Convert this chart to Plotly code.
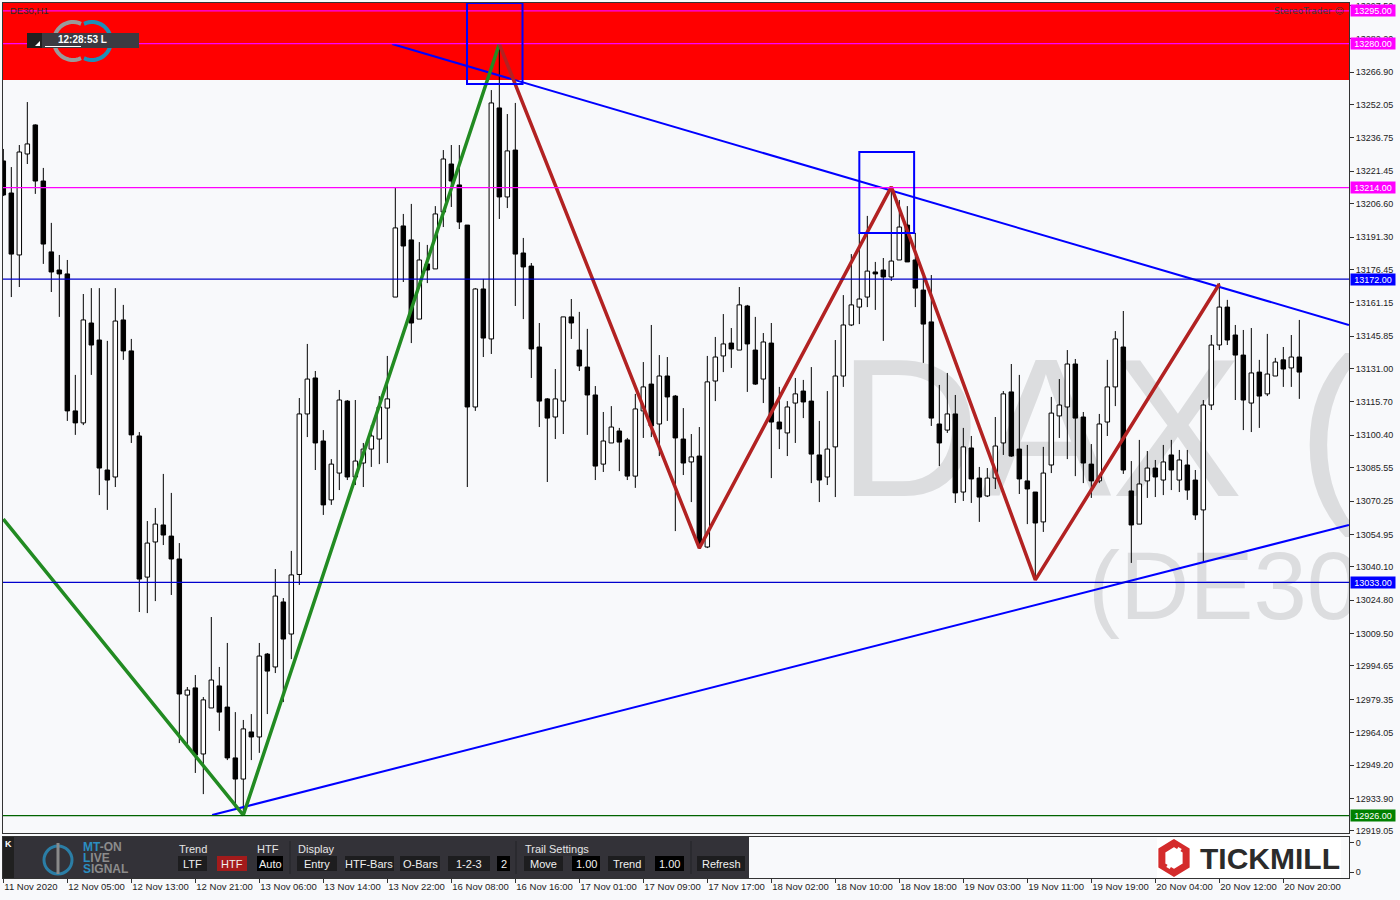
import math
import plotly.graph_objects as go

# ---------------- data ----------------
opens = [13226.2, 13211.5, 13183.1, 13229.4, 13242.7, 13217.0, 13184.5, 13176.2, 13174.4, 13111.6,
         13106.1, 13151.9, 13144.1, 13084.5, 13081.3, 13153.3, 13139.1, 13100.1, 13035.4, 13051.5,
         13059.3, 13054.2, 13043.7, 12981.3, 12984.6, 12954.3, 12975.4, 12985.5, 12975.8, 12952.5,
         12942.8, 12964.4, 12962.1, 13000.1, 12994.2, 13024.0, 13009.3, 13036.6, 13110.2, 13126.7,
         13097.8, 13070.8, 13083.1, 13116.1, 13081.3, 13087.7, 13094.1, 13098.7, 13112.9, 13163.8,
         13196.4, 13190.0, 13153.7, 13179.0, 13176.7, 13202.8, 13224.8, 13215.2, 13196.8, 13113.4,
         13167.5, 13144.6, 13250.5, 13209.7, 13231.2, 13184.0, 13178.0, 13140.9, 13117.1, 13108.8,
         13116.1, 13154.7, 13139.5, 13131.7, 13118.9, 13087.2, 13096.9, 13102.4, 13098.3, 13081.7,
         13111.6, 13123.9, 13105.6, 13127.6, 13118.4, 13098.7, 13088.2, 13090.9, 13049.2, 13125.3,
         13136.8, 13142.7, 13139.5, 13159.7, 13139.5, 13126.2, 13142.7, 13106.5, 13101.5, 13115.2,
         13120.7, 13116.1, 13091.4, 13081.3, 13095.1, 13127.6, 13151.0, 13159.2, 13163.8, 13175.3,
         13176.2, 13173.0, 13180.8, 13196.8, 13180.8, 13167.0, 13152.4, 13105.6, 13102.8, 13110.2,
         13074.4, 13094.6, 13080.8, 13072.6, 13080.8, 13096.9, 13120.3, 13094.1, 13079.5, 13074.4,
         13060.7, 13086.8, 13109.3, 13113.4, 13133.1, 13108.8, 13087.2, 13079.5, 13106.5, 13122.6,
         13140.9, 13074.9, 13059.7, 13079.5, 13085.4, 13079.9, 13091.4, 13079.9, 13086.8, 13079.9,
         13066.2, 13114.3, 13141.8, 13159.2, 13146.4, 13137.2, 13115.2, 13129.4, 13119.4, 13127.6,
         13135.0, 13131.3, 13136.3]
highs = [13231.7, 13223.4, 13233.5, 13253.2, 13243.0, 13223.0, 13197.8, 13183.1, 13180.8, 13128.1,
         13165.2, 13167.9, 13167.9, 13143.7, 13167.9, 13160.2, 13144.6, 13101.9, 13061.1, 13067.1,
         13082.7, 13074.0, 13051.0, 12985.0, 12990.5, 12980.4, 13017.1, 12994.2, 13005.2, 12973.5,
         12969.9, 12972.6, 13005.2, 13000.6, 13039.1, 13025.8, 13047.4, 13117.5, 13142.3, 13129.9,
         13102.8, 13089.5, 13121.2, 13116.6, 13116.6, 13096.9, 13105.1, 13118.4, 13136.8, 13213.8,
         13201.9, 13206.5, 13189.0, 13187.7, 13205.5, 13231.2, 13233.5, 13233.5, 13196.8, 13167.9,
         13172.1, 13258.7, 13279.8, 13247.7, 13252.8, 13190.9, 13179.4, 13151.9, 13117.5, 13130.8,
         13154.7, 13162.9, 13157.0, 13149.2, 13123.0, 13111.1, 13113.8, 13103.8, 13099.2, 13119.4,
         13134.0, 13151.0, 13137.2, 13136.3, 13118.9, 13112.9, 13101.0, 13104.2, 13136.8, 13145.5,
         13156.0, 13149.6, 13168.4, 13160.2, 13154.7, 13147.3, 13151.9, 13122.6, 13116.1, 13126.7,
         13125.8, 13131.7, 13107.0, 13120.7, 13144.1, 13164.7, 13183.5, 13193.2, 13201.0, 13179.9,
         13181.7, 13214.3, 13208.3, 13205.5, 13193.2, 13173.0, 13173.9, 13123.5, 13129.0, 13118.9,
         13103.8, 13100.1, 13085.9, 13085.4, 13108.8, 13120.7, 13133.1, 13128.1, 13096.0, 13074.4,
         13095.1, 13118.0, 13126.2, 13139.5, 13135.4, 13111.1, 13096.4, 13110.2, 13135.0, 13148.2,
         13157.4, 13088.6, 13098.3, 13093.2, 13089.1, 13096.0, 13098.3, 13093.7, 13093.7, 13084.5,
         13116.6, 13146.4, 13170.2, 13162.5, 13151.0, 13148.7, 13149.6, 13135.0, 13146.9, 13135.9,
         13140.9, 13146.4, 13153.3]
lows = [13210.1, 13163.8, 13168.4, 13224.8, 13211.1, 13179.0, 13166.1, 13154.7, 13107.0, 13100.6,
        13105.1, 13128.1, 13073.0, 13066.2, 13076.7, 13135.0, 13096.9, 13019.4, 13018.9, 13024.4,
        13050.1, 13027.2, 12959.3, 12957.0, 12945.6, 12935.9, 12975.4, 12964.9, 12951.5, 12929.5,
        12926.3, 12951.5, 12954.8, 12972.6, 12991.4, 12978.1, 12997.8, 13031.8, 13099.6, 13084.5,
        13063.9, 13068.5, 13075.3, 13079.9, 13077.6, 13076.7, 13085.9, 13087.2, 13087.7, 13163.8,
        13170.7, 13142.7, 13153.7, 13170.2, 13176.7, 13195.9, 13205.1, 13195.0, 13076.7, 13111.6,
        13136.3, 13137.7, 13199.6, 13204.6, 13159.7, 13153.7, 13126.7, 13104.2, 13079.0, 13098.7,
        13101.0, 13144.6, 13129.9, 13100.6, 13079.9, 13083.6, 13096.9, 13084.0, 13079.9, 13076.3,
        13099.2, 13099.6, 13090.9, 13107.0, 13056.5, 13082.2, 13069.8, 13048.3, 13048.7, 13116.1,
        13129.4, 13131.3, 13139.5, 13120.3, 13123.5, 13115.2, 13080.8, 13094.1, 13090.9, 13096.9,
        13108.3, 13078.5, 13069.8, 13077.6, 13072.1, 13122.6, 13150.5, 13151.4, 13159.2, 13157.9,
        13143.7, 13171.2, 13180.8, 13179.9, 13159.2, 13133.6, 13104.7, 13086.3, 13101.5, 13069.4,
        13070.3, 13069.4, 13060.7, 13072.1, 13075.8, 13091.4, 13090.5, 13073.5, 13059.7, 13034.1,
        13056.1, 13083.1, 13099.2, 13089.5, 13081.7, 13078.5, 13071.7, 13078.5, 13100.1, 13113.8,
        13082.7, 13041.9, 13059.7, 13071.7, 13072.1, 13073.0, 13075.3, 13074.4, 13070.8, 13061.6,
        13041.9, 13112.0, 13139.5, 13141.8, 13116.6, 13102.8, 13101.9, 13103.8, 13118.4, 13127.6,
        13122.6, 13122.6, 13117.1]
closes = [13210.6, 13183.5, 13230.3, 13234.0, 13217.0, 13188.1, 13175.3, 13174.4, 13111.6, 13106.1,
          13153.3, 13141.8, 13085.4, 13079.9, 13152.8, 13139.1, 13100.6, 13034.5, 13051.0, 13059.7,
          13054.7, 13043.7, 12981.8, 12983.6, 12953.8, 12979.1, 12988.2, 12973.5, 12952.5, 12942.8,
          12965.8, 12962.1, 12999.2, 12992.3, 13026.7, 13007.0, 13036.4, 13110.2, 13126.2, 13096.9,
          13068.5, 13087.2, 13116.6, 13081.3, 13088.6, 13094.1, 13100.1, 13113.4, 13117.1, 13195.5,
          13187.2, 13151.9, 13180.8, 13176.2, 13201.9, 13227.1, 13217.0, 13198.2, 13113.4, 13167.5,
          13145.0, 13252.8, 13209.7, 13230.8, 13183.5, 13177.6, 13140.0, 13116.1, 13108.3, 13117.1,
          13154.7, 13151.9, 13132.2, 13118.9, 13086.3, 13097.8, 13104.2, 13097.3, 13081.7, 13112.5,
          13122.6, 13104.7, 13127.6, 13118.0, 13099.2, 13087.7, 13090.5, 13050.6, 13124.9, 13136.3,
          13142.3, 13140.0, 13160.2, 13142.3, 13123.9, 13143.2, 13106.5, 13103.3, 13113.4, 13119.4,
          13115.7, 13091.8, 13079.9, 13094.1, 13127.6, 13151.0, 13160.2, 13162.9, 13175.7, 13174.4,
          13173.0, 13180.3, 13195.9, 13179.9, 13167.9, 13151.4, 13108.3, 13096.9, 13110.2, 13074.0,
          13095.1, 13080.4, 13072.1, 13080.8, 13095.5, 13119.4, 13090.9, 13080.4, 13075.8, 13060.2,
          13083.1, 13110.6, 13114.3, 13133.1, 13108.3, 13087.7, 13079.5, 13105.6, 13122.6, 13144.6,
          13084.5, 13059.3, 13078.1, 13085.4, 13081.3, 13088.2, 13084.5, 13089.1, 13075.3, 13063.9,
          13114.3, 13141.8, 13159.2, 13144.1, 13137.2, 13116.6, 13129.0, 13118.4, 13128.5, 13134.0,
          13130.8, 13136.3, 13129.4]

time_tick_idx = [0, 8, 16, 24, 32, 40, 48, 56, 64, 72, 80, 88, 96, 104, 112, 120, 128, 136, 144, 152, 160]
time_tick_labels = ["11 Nov 2020", "12 Nov 05:00", "12 Nov 13:00", "12 Nov 21:00", "13 Nov 06:00",
                    "13 Nov 14:00", "13 Nov 22:00", "16 Nov 08:00", "16 Nov 16:00", "17 Nov 01:00",
                    "17 Nov 09:00", "17 Nov 17:00", "18 Nov 02:00", "18 Nov 10:00", "18 Nov 18:00",
                    "19 Nov 03:00", "19 Nov 11:00", "19 Nov 19:00", "20 Nov 04:00", "20 Nov 12:00",
                    "20 Nov 20:00"]

price_ticks = [12919.05, 12933.90, 12949.20, 12964.05, 12979.35, 12994.65, 13009.50, 13024.80,
               13040.10, 13054.95, 13070.25, 13085.55, 13100.40, 13115.70, 13131.00, 13145.85,
               13161.15, 13176.45, 13191.30, 13206.60, 13221.45, 13236.75, 13252.05, 13266.90,
               13282.20, 13297.50]
price_range = [12918.07, 13298.62]

magenta_levels = [13295.0, 13280.0, 13214.0]
blue_levels = [13172.0, 13033.0]
green_levels = [12926.0]
supply_zone = [13263.3, 13298.62]

upper_tl_x = [48.6, 168.2]
upper_tl_y = [13279.8, 13151.0]
lower_tl_x = [26.1, 168.2]
lower_tl_y = [12926.3, 13059.3]

zz_green_x = [0, 30, 62]
zz_green_y = [13062.0, 12926.3, 13279.8]
zz_red_x = [62, 87, 111, 129, 152]
zz_red_y = [13279.8, 13048.7, 13214.3, 13034.1, 13169.8]

box_x = [(57.96, 64.9), (107.0, 113.85)]
box_y = [(13261.5, 13298.6), (13193.2, 13230.3)]

x_range = [-0.04, 168.21]

# ---------------- geometry helpers (pixel -> paper for decorations) ----------------
W, H = 1400, 900
ML, MR, MT, MB = 3, 51, 3, 22
PW = W - ML - MR
PH = H - MT - MB


def px(x):
    return (x - ML) / PW


def py(y):
    return (H - MB - y) / PH


BG = "#f8f9fb"
FONT = "Liberation Sans"

fig = go.Figure()

# watermark (drawn first so candles sit on top)
fig.add_trace(go.Scatter(x=[104.3], y=[13095.0], mode="text", text=["DAX ("],
                         textposition="middle right", cliponaxis=True, hoverinfo="skip",
                         textfont=dict(family=FONT, size=197, color="#dcdddf"), showlegend=False))
fig.add_trace(go.Scatter(x=[135.6], y=[13027.0], mode="text", text=["(DE30)"],
                         textposition="middle right", cliponaxis=True, hoverinfo="skip",
                         textfont=dict(family=FONT, size=96, color="#dcdddf"), showlegend=False))

# candles built from OHLC arrays
hw = 0.28
bx_up, by_up, bx_dn, by_dn, wx, wy = [], [], [], [], [], []
for i, (o, h, l, c) in enumerate(zip(opens, highs, lows, closes)):
    top, bot = max(o, c), min(o, c)
    if top - bot < 0.4:
        top = bot + 0.4
    xs = [i - hw, i + hw, i + hw, i - hw, i - hw, None]
    ys = [bot, bot, top, top, bot, None]
    if c >= o:
        bx_up += xs
        by_up += ys
    else:
        bx_dn += xs
        by_dn += ys
    if h > top:
        wx += [i, i, None]
        wy += [h, top, None]
    if l < bot:
        wx += [i, i, None]
        wy += [bot, l, None]

fig.add_trace(go.Scatter(x=wx, y=wy, mode="lines", line=dict(color="#000000", width=1),
                         hoverinfo="skip", showlegend=False))
fig.add_trace(go.Scatter(x=bx_dn, y=by_dn, mode="lines", fill="toself", fillcolor="#000000",
                         line=dict(color="#000000", width=1), hoverinfo="skip", showlegend=False))
fig.add_trace(go.Scatter(x=bx_up, y=by_up, mode="lines", fill="toself", fillcolor="#ffffff",
                         line=dict(color="#000000", width=1), hoverinfo="skip", showlegend=False))

# trend lines and zigzags
fig.add_trace(go.Scatter(x=upper_tl_x, y=upper_tl_y, mode="lines", line=dict(color="#0000ff", width=2),
                         hoverinfo="skip", showlegend=False))
fig.add_trace(go.Scatter(x=lower_tl_x, y=lower_tl_y, mode="lines", line=dict(color="#0000ff", width=2),
                         hoverinfo="skip", showlegend=False))
fig.add_trace(go.Scatter(x=zz_green_x, y=zz_green_y, mode="lines", line=dict(color="#228b22", width=3.5),
                         hoverinfo="skip", showlegend=False))
fig.add_trace(go.Scatter(x=zz_red_x, y=zz_red_y, mode="lines", line=dict(color="#b22222", width=3.5),
                         hoverinfo="skip", showlegend=False))

# panel dummy trace to create the second subplot
fig.add_trace(go.Scatter(x=[0], y=[-1], xaxis="x2", yaxis="y2", mode="markers",
                         marker=dict(size=1, color=BG), hoverinfo="skip", showlegend=False))

shapes = []
annotations = []

# supply zone
shapes.append(dict(type="rect", xref="x domain", yref="y", x0=0, x1=1, y0=supply_zone[0], y1=supply_zone[1],
                   fillcolor="#ff0000", line=dict(width=0), layer="below"))
# horizontal levels
for v in magenta_levels:
    shapes.append(dict(type="line", xref="x domain", yref="y", x0=0, x1=1, y0=v, y1=v,
                       line=dict(color="#ff00ff", width=1.3)))
for v in blue_levels:
    shapes.append(dict(type="line", xref="x domain", yref="y", x0=0, x1=1, y0=v, y1=v,
                       line=dict(color="#0000cd", width=1.2)))
for v in green_levels:
    shapes.append(dict(type="line", xref="x domain", yref="y", x0=0, x1=1, y0=v, y1=v,
                       line=dict(color="#006400", width=1.2)))
# blue boxes
for (x0, x1), (y0, y1) in zip(box_x, box_y):
    shapes.append(dict(type="rect", xref="x", yref="y", x0=x0, x1=x1, y0=y0, y1=y1,
                       line=dict(color="#0000ff", width=2), fillcolor="rgba(0,0,0,0)"))

# price label boxes on the axis
for vals, col in ((magenta_levels, "#ff00ff"), (blue_levels, "#0000ff"), (green_levels, "#008000")):
    for v in vals:
        annotations.append(dict(xref="paper", yref="y", x=1, y=v, xanchor="left", yanchor="middle",
                                xshift=1, text=f"{v:.2f}", showarrow=False, bgcolor=col,
                                width=44, height=11, borderpad=0,
                                font=dict(family=FONT, size=9, color="#ffffff")))

# ---- top-left decorations ----
annotations.append(dict(xref="paper", yref="paper", x=px(8), y=py(10), xanchor="left", yanchor="middle",
                        text="DE30,H1", showarrow=False, font=dict(family=FONT, size=9.5, color="#2a2a2a")))


def arc(cx, cy, r, a0, a1, n=30):
    pts = []
    for j in range(n + 1):
        a = math.radians(a0 + (a1 - a0) * j / n)
        pts.append((px(cx + r * math.cos(a)), py(cy - r * math.sin(a))))
    return "M " + " L ".join(f"{x:.5f},{y:.5f}" for x, y in pts)


shapes.append(dict(type="path", xref="paper", yref="paper", path=arc(73, 41, 19, 65, 295),
                   line=dict(color="#9a9a9a", width=4)))
shapes.append(dict(type="path", xref="paper", yref="paper", path=arc(92, 41, 19, -115, 115),
                   line=dict(color="#1f8fb8", width=4)))
shapes.append(dict(type="rect", xref="paper", yref="paper", x0=px(27), x1=px(139), y0=py(48), y1=py(33),
                   fillcolor="#3c3b42", line=dict(width=0)))
shapes.append(dict(type="rect", xref="paper", yref="paper", x0=px(27), x1=px(42), y0=py(48), y1=py(33),
                   fillcolor="#202020", line=dict(width=0)))
shapes.append(dict(type="path", xref="paper", yref="paper",
                   path=f"M {px(35)},{py(46)} L {px(40)},{py(46)} L {px(40)},{py(41)} Z",
                   fillcolor="#ffffff", line=dict(width=0)))
shapes.append(dict(type="line", xref="paper", yref="paper", x0=px(45), x1=px(81), y0=py(46.5), y1=py(46.5),
                   line=dict(color="#ffffff", width=1)))
annotations.append(dict(xref="paper", yref="paper", x=px(82), y=py(40), xanchor="center", yanchor="middle",
                        text="<b>12:28:53 L</b>", showarrow=False,
                        font=dict(family=FONT, size=10, color="#ffffff")))
annotations.append(dict(xref="paper", yref="paper", x=px(1346), y=py(11), xanchor="right", yanchor="middle",
                        text="StereoTrader ☺", showarrow=False,
                        font=dict(family="DejaVu Sans", size=9, color="#3a3a3a")))

# ---- bottom toolbar panel ----
shapes.append(dict(type="rect", xref="paper", yref="paper", x0=px(3), x1=px(749), y0=py(878), y1=py(837),
                   fillcolor="#333238", line=dict(width=0)))
shapes.append(dict(type="rect", xref="paper", yref="paper", x0=px(3), x1=px(14), y0=py(878), y1=py(837),
                   fillcolor="#202020", line=dict(width=0)))
for sx in (290, 516, 691):
    shapes.append(dict(type="line", xref="paper", yref="paper", x0=px(sx), x1=px(sx), y0=py(874), y1=py(841),
                       line=dict(color="#232227", width=1)))
annotations.append(dict(xref="paper", yref="paper", x=px(8.5), y=py(844), xanchor="center", yanchor="middle",
                        text="<b>K</b>", showarrow=False, font=dict(family=FONT, size=9, color="#ffffff")))
# MT-ON logo
shapes.append(dict(type="circle", xref="paper", yref="paper", x0=px(44), x1=px(72), y0=py(874), y1=py(846),
                   line=dict(color="#2b7ea6", width=3)))
shapes.append(dict(type="line", xref="paper", yref="paper", x0=px(58), x1=px(58), y0=py(874), y1=py(843),
                   line=dict(color="#8a8a8a", width=3)))
annotations.append(dict(xref="paper", yref="paper", x=px(81), y=py(847), xanchor="left", yanchor="middle",
                        text="<b><span style='color:#2b8ec0'>MT</span>-ON</b>", showarrow=False,
                        font=dict(family=FONT, size=12, color="#8c8c8c")))
annotations.append(dict(xref="paper", yref="paper", x=px(81), y=py(858), xanchor="left", yanchor="middle",
                        text="<b><span style='color:#2b8ec0'>L</span>IVE</b>", showarrow=False,
                        font=dict(family=FONT, size=12, color="#8c8c8c")))
annotations.append(dict(xref="paper", yref="paper", x=px(81), y=py(869), xanchor="left", yanchor="middle",
                        text="<b><span style='color:#2b8ec0'>S</span>IGNAL</b>", showarrow=False,
                        font=dict(family=FONT, size=12, color="#8c8c8c")))
for txt, x in (("Trend", 177), ("HTF", 255), ("Display", 296), ("Trail Settings", 523)):
    annotations.append(dict(xref="paper", yref="paper", x=px(x), y=py(849), xanchor="left", yanchor="middle",
                            text=txt, showarrow=False, font=dict(family=FONT, size=11, color="#e6e6e6")))
buttons = [("LTF", 178, 207, "#1d1d1f"), ("HTF", 217, 247, "#a31b1b"), ("Auto", 257, 283, "#000000"),
           ("Entry", 297, 337, "#1d1d1f"), ("HTF-Bars", 345, 394, "#1d1d1f"), ("O-Bars", 400, 440, "#1d1d1f"),
           ("1-2-3", 448, 490, "#1d1d1f"), ("2", 497, 510, "#000000"), ("Move", 524, 563, "#1d1d1f"),
           ("1.00", 572, 600, "#000000"), ("Trend", 608, 645, "#1d1d1f"), ("1.00", 655, 684, "#000000"),
           ("Refresh", 697, 745, "#1d1d1f")]
for txt, x0, x1, col in buttons:
    shapes.append(dict(type="rect", xref="paper", yref="paper", x0=px(x0), x1=px(x1), y0=py(871), y1=py(856),
                       fillcolor=col, line=dict(width=0)))
    annotations.append(dict(xref="paper", yref="paper", x=px((x0 + x1) / 2), y=py(863.5), xanchor="center",
                            yanchor="middle", text=txt, showarrow=False,
                            font=dict(family=FONT, size=11, color="#f0f0f0")))

# TICKMILL logo
shapes.append(dict(type="rect", xref="paper", yref="paper", x0=px(1157), x1=px(1341), y0=py(878), y1=py(838),
                   fillcolor="#ffffff", line=dict(width=0)))
hexpts = []
for j in range(6):
    a = math.radians(90 + 60 * j)
    hexpts.append((px(1174 + 14 * math.cos(a)), py(858 - 15 * math.sin(a))))
shapes.append(dict(type="path", xref="paper", yref="paper",
                   path="M " + " L ".join(f"{x:.5f},{y:.5f}" for x, y in hexpts) + " Z",
                   line=dict(color="#d42b2b", width=7), fillcolor="rgba(0,0,0,0)"))
shapes.append(dict(type="line", xref="paper", yref="paper", x0=px(1168), x1=px(1180), y0=py(868), y1=py(848),
                   line=dict(color="#ffffff", width=4)))
annotations.append(dict(xref="paper", yref="paper", x=px(1198), y=py(858), xanchor="left", yanchor="middle",
                        text="<b>TICKMILL</b>", showarrow=False,
                        font=dict(family=FONT, size=30, color="#2b2b2b")))

AX = "#333333"
fig.update_layout(
    template="none",
    width=W, height=H, margin=dict(l=ML, r=MR, t=MT, b=MB, pad=0, autoexpand=False),
    paper_bgcolor=BG, plot_bgcolor=BG, showlegend=False, hovermode=False,
    font=dict(family=FONT, size=9, color="#222222"),
    shapes=shapes, annotations=annotations,
    xaxis=dict(domain=[0, 1], anchor="y", range=x_range, showgrid=False, zeroline=False, automargin=False,
               showticklabels=False, ticks="", showline=True, linecolor=AX, linewidth=1, mirror=True),
    yaxis=dict(domain=[45 / PH, 1], anchor="x", side="right", range=price_range, showgrid=False,
               zeroline=False, automargin=False, tickmode="array", tickvals=price_ticks,
               ticktext=[f"{v:.2f}" for v in price_ticks], ticks="outside", ticklen=4, tickcolor=AX,
               showline=True, linecolor=AX, linewidth=1, mirror=True,
               tickfont=dict(family=FONT, size=9, color="#222222")),
    xaxis2=dict(domain=[0, 1], anchor="y2", matches="x", range=x_range, showgrid=False, zeroline=False,
                automargin=False, tickmode="array", tickvals=time_tick_idx, ticktext=time_tick_labels,
                tickangle=0, ticks="outside", ticklen=4, tickcolor=AX, ticklabelposition="outside right",
                tickfont=dict(family=FONT, size=9.5, color="#222222"),
                showline=True, linecolor=AX, linewidth=1, mirror=True),
    yaxis2=dict(domain=[0, 41 / PH], anchor="x2", side="right", range=[0, 1], showgrid=False, zeroline=False,
                automargin=False, tickmode="array", tickvals=[0.854, 0.146], ticktext=["0", "0"],
                ticks="outside", ticklen=4, tickcolor=AX, showline=True, linecolor=AX, linewidth=1,
                mirror=True, tickfont=dict(family=FONT, size=9, color="#222222")),
)

fig.write_html("out.html", config={"displayModeBar": False},
               post_script="document.body.style.margin='0';document.body.style.overflow='hidden';")
